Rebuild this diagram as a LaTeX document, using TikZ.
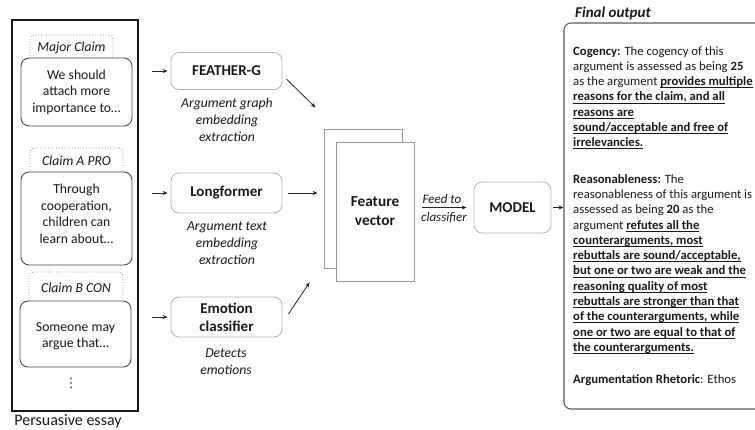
\documentclass[tikz,border=0pt]{standalone}
\usepackage{fontspec}
\setmainfont{Carlito}
\newfontfamily\djv{DejaVu Sans}
\usetikzlibrary{arrows.meta}
\newcommand{\myul}[1]{\setbox0\hbox{#1}\rlap{\rule[-2.4pt]{\wd0}{0.75pt}}\box0}
\begin{document}
\begin{tikzpicture}[x=1pt,y=-1pt,
  claimbox/.style={draw=black!70, line width=0.9pt, rounded corners=8pt, fill=white, minimum width=111pt, inner sep=0pt},
  claimtext/.style={align=center, font=\fontsize{13.7}{16.5}\selectfont, inner sep=0pt, text=black!90},
  claimlabel/.style={draw=black!55, dotted, line width=0.7pt, rounded corners=4pt, fill=white, font=\fontsize{13.7}{16}\selectfont\itshape, inner sep=0pt, text=black!90},
  modelbox/.style={draw=black!30, line width=0.8pt, rounded corners=8pt, minimum width=111pt, font=\fontsize{15}{18}\selectfont\bfseries, align=center, inner sep=0pt, text=black!90},
  desc/.style={font=\fontsize{13.7}{17}\selectfont\itshape, align=center, inner sep=0pt, text=black!90},
  arr/.style={-{Stealth[length=5pt,width=4pt]}, line width=0.8pt, black!85},
  fvrect/.style={draw=black!40, line width=0.8pt, fill=white, minimum width=78pt, minimum height=139pt, inner sep=0pt, align=center, font=\fontsize{15.3}{19}\selectfont\bfseries, text=black!90},
  outtext/.style={font=\fontsize{12.7}{15.3}\selectfont, align=left, inner sep=0pt, text=black!90}
]
\useasboundingbox (0,0) rectangle (755,429);

% essay column
\node[draw=black!90, line width=1.6pt, minimum width=126pt, minimum height=391pt, inner sep=0pt] (essay) at (75,215.5) {};
\node[claimlabel, minimum width=83pt, minimum height=25pt] (l1) at (71.5,47.5) {Major Claim};
\node[claimbox, minimum height=68pt] (c1) at (76.5,92) {};
\node[claimtext] (t1) at (76.5,92) {We should\\attach more\\importance to…};
\node[claimlabel, minimum width=93pt, minimum height=26pt] (l2) at (76.5,161) {Claim A PRO};
\node[claimbox, minimum height=93pt] (c2) at (76.5,218.5) {};
\node[claimtext] (t2) at (76.5,214) {Through\\cooperation,\\children can\\learn about…};
\node[claimlabel, minimum width=94pt, minimum height=31pt] (l3) at (76,287.5) {Claim B CON};
\node[claimbox, minimum height=66pt] (c3) at (75.5,334) {};
\node[claimtext] (t3) at (75.5,336) {Someone may\\argue that…};
\node[font=\djv\fontsize{13}{13}\selectfont, text=black!85, inner sep=0pt] (dots) at (71,383) {⋮};
\node[font=\fontsize{16}{19}\selectfont, text=black!90, inner sep=0pt] (pe) at (68,421) {Persuasive essay};

% model boxes
\node[modelbox, minimum height=37pt] (fg) at (226.5,71) {FEATHER-G};
\node[modelbox, minimum height=40pt] (lf) at (226.5,193) {Longformer};
\node[modelbox, minimum height=40pt] (em) at (226.5,317) {Emotion\\classifier};
\node[desc] (fgd) at (227,120) {Argument graph\\embedding\\extraction};
\node[desc] (lfd) at (227,243.5) {Argument text\\embedding\\extraction};
\node[desc] (emd) at (226,361.5) {Detects\\emotions};

\draw[arr] ([xshift=13pt]essay.east |- fg.west) -- ([xshift=-3pt]fg.west);
\draw[arr] ([xshift=13pt]essay.east |- lf.west) -- ([xshift=-3pt]lf.west);
\draw[arr] ([xshift=13pt]essay.east |- em.west) -- ([xshift=-3pt]em.west);

% feature vector
\node[fvrect] (fvb) at (363,198.5) {};
\node[fvrect] (fvf) at (375,211.5) {Feature\\vector};

\draw[arr] ([shift={(4,8)}]fg.east) -- ([shift={(-8,-21)}]fvb.north west);
\draw[arr] ([xshift=6pt]lf.east) -- ([xshift=-6pt]fvb.west |- lf.east);
\draw[arr] ([shift={(6,-3)}]em.east) -- ([shift={(-14,14)}]fvb.south west);

% model
\node[modelbox, minimum width=77pt, minimum height=51pt] (model) at (512.5,207.5) {MODEL};
\node[font=\fontsize{13}{15}\selectfont\itshape, inner sep=0pt, text=black!90] (feed) at (442,199) {Feed to};
\node[font=\fontsize{13}{15}\selectfont\itshape, inner sep=0pt, text=black!90] (cls) at (444,218) {classifier};
\draw[arr] ([xshift=8pt]fvf.east |- model.west) -- ([xshift=-7pt]model.west);

% output
\begin{scope}
\clip (0,0) rectangle (755,429);
\node[draw=black!65, line width=1.1pt, rounded corners=7pt, minimum width=211pt, minimum height=386pt, inner sep=0pt] (out) at (669.5,216) {};
\end{scope}
\draw[arr] ([xshift=2pt]model.east) -- (out.west |- model.east);
\node[font=\fontsize{15}{18}\selectfont\bfseries\itshape, anchor=west, inner sep=0pt, text=black!90] (fo) at (575,13) {Final output};
\node[outtext, anchor=north west] (outtxt) at (573,46) {%
\textbf{Cogency:} The cogency of this\\
argument is assessed as being \textbf{25}\\
as the argument \myul{\textbf{provides multiple}}\\
\myul{\textbf{reasons for the claim, and all}}\\
\myul{\textbf{reasons are}}\\
\myul{\textbf{sound/acceptable and free of}}\\
\myul{\textbf{irrelevancies.}}\\[21pt]
\textbf{Reasonableness:} The\\
reasonableness of this argument is\\
assessed as being \textbf{20} as the\\
argument \myul{\textbf{refutes all the}}\\
\myul{\textbf{counterarguments, most}}\\
\myul{\textbf{rebuttals are sound/acceptable,}}\\
\myul{\textbf{but one or two are weak and the}}\\
\myul{\textbf{reasoning quality of most}}\\
\myul{\textbf{rebuttals are stronger than that}}\\
\myul{\textbf{of the counterarguments, while}}\\
\myul{\textbf{one or two are equal to that of}}\\
\myul{\textbf{the counterarguments.}}\\[17pt]
\textbf{Argumentation Rhetoric}: Ethos};
\end{tikzpicture}
\end{document}
